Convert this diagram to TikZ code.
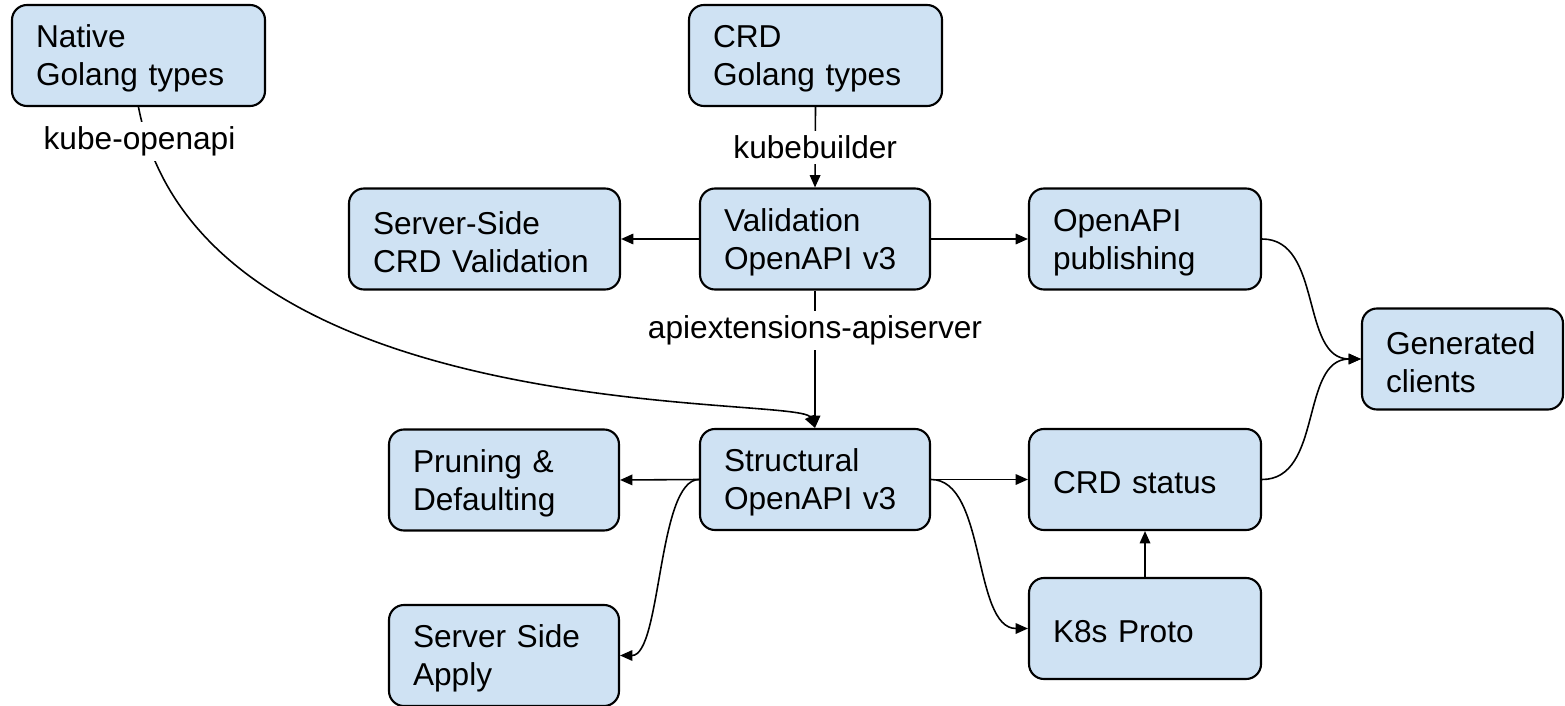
\documentclass[tikz,border=0pt]{standalone}
\usepackage{fontspec}
\setmainfont{Liberation Sans}
\usetikzlibrary{arrows.meta}
\definecolor{boxfill}{RGB}{207,226,243}
\begin{document}
\begin{tikzpicture}[
  box/.style={draw=black, fill=boxfill, line width=1.2pt, rounded corners=0.3cm,
    align=left, text width=#1, inner xsep=0.48cm, minimum height=2.02cm,
    execute at begin node=\rule{0pt}{0.58cm}},
  lbl/.style={fill=white, inner sep=0.1cm},
  conn/.style={line width=0.9pt, -{Triangle[length=7pt,width=6pt]}},
  font=\fontsize{18}{21.6}\selectfont]
\useasboundingbox (0,0) rectangle (31.3,-14.12);
\node[box=4.10cm](native) at (2.77,-1.11) {Native\\Golang types};
\node[box=4.10cm](crd) at (16.31,-1.11) {CRD\\Golang types};
\node[box=4.46cm](ssv) at (9.69,-4.78) {Server-Side\\CRD Validation};
\node[box=3.64cm](valid) at (16.30,-4.78) {Validation\\OpenAPI v3};
\node[box=3.68cm](publish) at (22.90,-4.78) {OpenAPI\\publishing};
\node[box=3.06cm](gen) at (29.25,-7.18) {Generated\\clients};
\node[box=3.64cm](prune) at (10.08,-9.60) {Pruning \&\\Defaulting};
\node[box=3.64cm](struct) at (16.30,-9.59) {Structural\\OpenAPI v3};
\node[box=3.68cm](status) at (22.90,-9.59) {CRD status};
\node[box=3.64cm](ssa) at (10.08,-13.11) {Server Side\\Apply};
\node[box=3.68cm](proto) at (22.90,-12.57) {K8s Proto};
%
\draw[conn](native.south) .. controls +(1.24,-6.48) and +(-0.30,0.66) .. (struct.north)
  node[lbl, pos=0.037, xshift=-0.16cm]{kube-openapi};
\draw[conn](crd.south) -- (valid.north) node[lbl, midway]{kubebuilder};
\draw[conn](valid.south) -- (struct.north) node[lbl, pos=0.29]{apiextensions-apiserver};
\draw[conn](valid.west) -- (ssv.east);
\draw[conn](valid.east) -- (publish.west);
\draw[conn](struct.west) -- (prune.east);
\draw[conn](struct.west) to[out=180, in=0, looseness=0.55] (ssa.east);
\draw[conn](struct.east) -- (status.west);
\draw[conn](struct.east) to[out=0, in=180, looseness=0.8] (proto.west);
\draw[conn](proto.north) -- (status.south);
\draw[conn](publish.east) to[out=0, in=180] (gen.west);
\draw[conn](status.east) to[out=0, in=180] (gen.west);
\end{tikzpicture}
\end{document}
